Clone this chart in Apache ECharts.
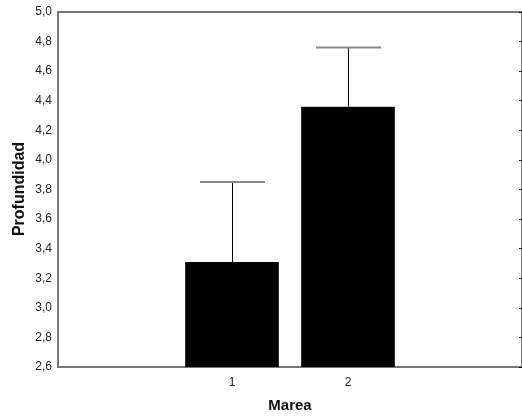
<!DOCTYPE html>
<html>
<head>
<meta charset="utf-8">
<script src="https://cdn.jsdelivr.net/npm/echarts@6/dist/echarts.min.js"></script>
<style>
  html, body { margin: 0; padding: 0; background: #fff; }
  #chart { width: 522px; height: 419px; }
</style>
</head>
<body>
<div id="chart"></div>
<script>
// Mean depth per tide level, with the upper error whisker
const categories = ['', '1', '2', ''];
const meanDepth = [null, 3.31, 4.36, null];
const upperDepth = [null, 3.85, 4.76, null];
const yTicks = { min: 2.6, max: 5.0, step: 0.2 };
const yTitle = 'Profundidad';
const xTitle = 'Marea';

const FONT = '"Liberation Sans", Arial, sans-serif';
const AXIS_GRAY = '#777';

const chart = echarts.init(document.getElementById('chart'), null, { renderer: 'canvas' });

const whiskerData = categories.map((c, i) =>
  meanDepth[i] == null ? null : [i, meanDepth[i], upperDepth[i]]
).filter(d => d);

const commaFmt = v => v.toFixed(1).replace('.', ',');

chart.setOption({
  animation: false,
  backgroundColor: '#fff',
  grid: { left: 58, top: 12, width: 466, height: 355 },
  graphic: [
    {
      type: 'text',
      x: 20,
      y: 189,
      rotation: Math.PI / 2,
      style: {
        text: yTitle,
        align: 'center',
        verticalAlign: 'middle',
        font: 'bold 16px ' + FONT,
        fill: '#111'
      }
    }
  ],
  xAxis: [
    {
      type: 'category',
      data: categories,
      position: 'bottom',
      boundaryGap: true,
      name: xTitle,
      nameLocation: 'middle',
      nameGap: 31,
      nameTextStyle: { fontFamily: FONT, fontWeight: 'bold', fontSize: 15, color: '#111' },
      axisLine: { lineStyle: { color: AXIS_GRAY, width: 2 } },
      axisTick: { inside: true, alignWithLabel: true, length: 3, lineStyle: { color: '#111' } },
      axisLabel: { fontFamily: FONT, fontSize: 12, color: '#222', margin: 10, interval: 0 },
      splitLine: { show: false }
    },
    {
      type: 'category',
      data: categories,
      position: 'top',
      boundaryGap: true,
      axisLine: { lineStyle: { color: AXIS_GRAY, width: 2 } },
      axisTick: { inside: true, alignWithLabel: true, length: 3, lineStyle: { color: '#111' } },
      axisLabel: { show: false },
      splitLine: { show: false }
    }
  ],
  yAxis: [
    {
      type: 'value',
      position: 'left',
      min: yTicks.min,
      max: yTicks.max,
      interval: yTicks.step,
      axisLine: { show: true, lineStyle: { color: AXIS_GRAY, width: 2 } },
      axisTick: { show: false },
      axisLabel: { fontFamily: FONT, fontSize: 12, color: '#222', margin: 6, formatter: commaFmt },
      splitLine: { show: false }
    },
    {
      type: 'value',
      position: 'right',
      min: yTicks.min,
      max: yTicks.max,
      interval: yTicks.step,
      axisLine: { show: true, lineStyle: { color: AXIS_GRAY, width: 2 } },
      axisTick: { show: true, inside: true, length: 3, lineStyle: { color: '#111' } },
      axisLabel: { show: false },
      splitLine: { show: false }
    }
  ],
  series: [
    {
      type: 'bar',
      data: meanDepth,
      barWidth: '80.7%',
      itemStyle: { color: '#000' },
      z: 2
    },
    {
      type: 'custom',
      data: whiskerData,
      encode: { x: 0, y: [1, 2] },
      z: 3,
      renderItem: function (params, api) {
        const base = api.coord([api.value(0), api.value(1)]);
        const top = api.coord([api.value(0), api.value(2)]);
        const half = api.size([1, 0])[0] * 0.28;
        const x = Math.round(base[0]) + 0.5;
        return {
          type: 'group',
          children: [
            {
              type: 'line',
              shape: { x1: x, y1: base[1], x2: x, y2: top[1] },
              style: { stroke: '#000', lineWidth: 1 }
            },
            {
              type: 'line',
              shape: { x1: x - half, y1: top[1], x2: x + half, y2: top[1] },
              style: { stroke: '#888', lineWidth: 2 }
            }
          ]
        };
      }
    }
  ]
});
</script>
</body>
</html>
